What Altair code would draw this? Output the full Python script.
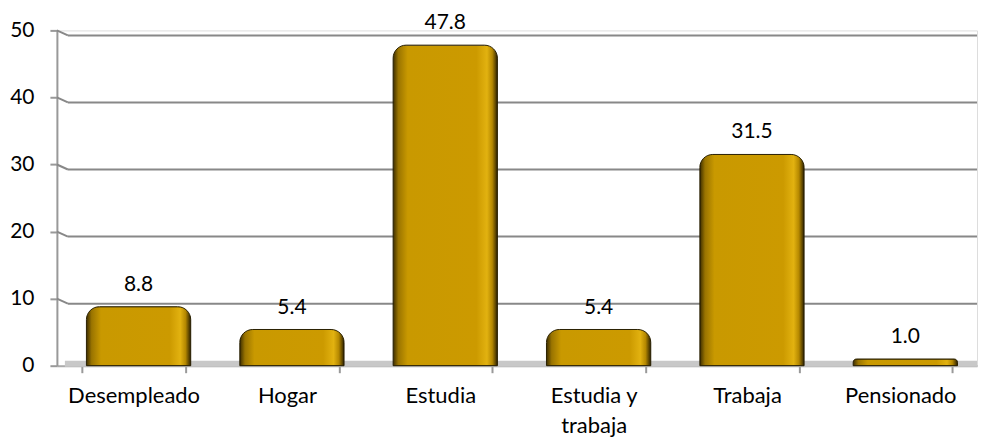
import altair as alt
import pandas as pd

categories = ["Desempleado", "Hogar", "Estudia", "Estudia y trabaja", "Trabaja", "Pensionado"]
values = [8.8, 5.4, 47.8, 5.4, 31.5, 1.0]
grid_values = [10, 20, 30, 40, 50]

df = pd.DataFrame({"cat": categories, "val": values})
gdf = pd.DataFrame({"g": grid_values})

W, H = 922, 336
FONT = "Lato"

xenc = alt.X("cat:N", sort=categories,
             scale=alt.Scale(paddingInner=0.32, paddingOuter=0.16),
             axis=alt.Axis(title=None, labelAngle=0, labelFont=FONT, labelFontSize=22,
                           labelColor="#000", labelPadding=13, tickBand="extent",
                           tickColor="#999", tickSize=7, tickWidth=2,
                           domainColor="#aaa", domainWidth=2,
                           labelExpr="datum.label == 'Estudia y trabaja' ? ['Estudia y', 'trabaja'] : datum.label",
                           labelLineHeight=30))
yscale = alt.Scale(domain=[0, 50], nice=False)
yaxis = alt.Axis(title=None, values=[0, 10, 20, 30, 40, 50], grid=False, labelFont=FONT,
                 labelFontSize=21, labelColor="#000", labelPadding=16,
                 tickColor="#999", tickSize=7, tickWidth=2,
                 domainColor="#999", domainWidth=2)

grad = alt.Gradient(gradient="linear", x1=0, x2=1, y1=0, y2=0, stops=[
    alt.GradientStop(color="#3d2e00", offset=0.0),
    alt.GradientStop(color="#9a7400", offset=0.05),
    alt.GradientStop(color="#C99900", offset=0.14),
    alt.GradientStop(color="#CC9A00", offset=0.80),
    alt.GradientStop(color="#E2B210", offset=0.90),
    alt.GradientStop(color="#B58800", offset=0.95),
    alt.GradientStop(color="#2e2200", offset=1.0),
])

diag = alt.Chart(gdf).mark_rule(color="#888", strokeWidth=2, y2Offset=5).encode(
    y=alt.Y("g:Q", scale=yscale, axis=yaxis), y2="g:Q",
    x=alt.value(0), x2=alt.value(11))
grid = alt.Chart(gdf).mark_rule(color="#888", strokeWidth=2, yOffset=5).encode(
    y=alt.Y("g:Q", scale=yscale), x=alt.value(11), x2=alt.value(W))
floor = alt.Chart(pd.DataFrame({"g": [0]})).mark_rule(color="#c8c8c8", strokeWidth=6, yOffset=-2).encode(
    y=alt.Y("g:Q", scale=yscale), x=alt.value(8), x2=alt.value(W))

bars = alt.Chart(df).mark_bar(fill=grad, stroke="#2a2000", strokeWidth=1,
                              cornerRadiusTopLeft=13, cornerRadiusTopRight=13,
                              xOffset=5).encode(
    x=xenc, y=alt.Y("val:Q", scale=yscale))
labels = alt.Chart(df).mark_text(font=FONT, fontSize=21, color="#000", baseline="bottom",
                                 dy=-12, xOffset=5).encode(
    x=alt.X("cat:N", sort=categories), y=alt.Y("val:Q", scale=yscale),
    text=alt.Text("val:Q", format=".1f"))

chart = alt.layer(diag, grid, floor, bars, labels).properties(
    width=W, height=H,
    autosize=alt.AutoSizeParams(type="none"),
    padding={"left": 49, "top": 22, "right": 2, "bottom": 73},
).configure_view(stroke=None).configure(background="#ffffff")

chart.save("out.html", embed_options={"renderer": "svg", "actions": False})
